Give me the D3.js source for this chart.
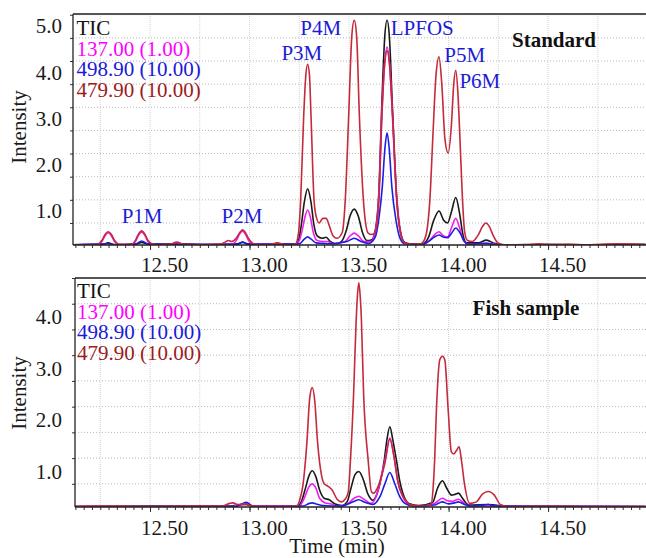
<!DOCTYPE html>
<html>
<head>
<meta charset="utf-8">
<script src="https://cdn.jsdelivr.net/npm/d3@7"></script>
<style>
  html, body { margin: 0; padding: 0; background: #fff; }
  svg { display: block; font-family: "Liberation Serif", "Times New Roman", serif; }
</style>
</head>
<body>
<div id="chart"></div>
<script>
"use strict";

// ---- data ----
const timeTicks = [12.5, 13.0, 13.5, 14.0, 14.5];
const stdIntensityTicks = [1.0, 2.0, 3.0, 4.0, 5.0];
const fishIntensityTicks = [1.0, 2.0, 3.0, 4.0];
const traceLabels = ["TIC", "137.00 (1.00)", "498.90 (10.00)", "479.90 (10.00)"];
const panelTitles = ["Standard", "Fish sample"];
const peakNames = ["P1M", "P2M", "P3M", "P4M", "LPFOS", "P5M", "P6M"];
// label anchors in data units [time, intensity]
const peakLabelAnchors = [[12.46, 0.5], [12.962, 0.5], [13.263, 4.02], [13.358, 4.56], [13.868, 4.56], [14.081, 3.98], [14.157, 3.42]];

// Standard: [time (min), intensity]
const stdTIC = [[12.11,0.03],[12.26,0.03],[12.29,0.07],[12.32,0.03],[12.43,0.04],[12.458,0.08],[12.49,0.04],[12.63,0.05],[12.80,0.03],[12.94,0.05],[12.965,0.09],[12.99,0.05],[13.14,0.04],[13.23,0.04],[13.246,0.12],[13.26,0.45],[13.276,0.97],[13.292,1.24],[13.308,0.97],[13.324,0.45],[13.34,0.22],[13.365,0.17],[13.385,0.19],[13.405,0.1],[13.43,0.05],[13.46,0.09],[13.485,0.32],[13.505,0.65],[13.526,0.8],[13.547,0.64],[13.567,0.3],[13.59,0.12],[13.615,0.14],[13.632,0.35],[13.649,1.1],[13.665,3.1],[13.679,4.5],[13.691,4.88],[13.703,4.5],[13.717,3.1],[13.739,1.1],[13.759,0.3],[13.78,0.08],[13.82,0.04],[13.87,0.05],[13.90,0.2],[13.925,0.55],[13.952,0.76],[13.975,0.56],[13.995,0.5],[14.015,0.75],[14.036,1.05],[14.055,0.72],[14.072,0.25],[14.09,0.07],[14.15,0.07],[14.19,0.13],[14.23,0.06],[14.27,0.03],[14.5,0.04],[14.7,0.03],[14.99,0.04]];
const stdM137 = [[12.11,0.03],[12.24,0.04],[12.26,0.11],[12.275,0.23],[12.29,0.29],[12.305,0.23],[12.32,0.11],[12.34,0.04],[12.41,0.04],[12.428,0.11],[12.443,0.24],[12.458,0.3],[12.473,0.24],[12.488,0.11],[12.508,0.04],[12.60,0.03],[12.634,0.07],[12.67,0.03],[12.91,0.04],[12.935,0.13],[12.95,0.26],[12.965,0.32],[12.98,0.25],[12.995,0.12],[13.015,0.05],[13.23,0.04],[13.25,0.12],[13.265,0.35],[13.278,0.62],[13.292,0.78],[13.306,0.62],[13.32,0.3],[13.34,0.12],[13.37,0.1],[13.39,0.1],[13.42,0.05],[13.48,0.1],[13.505,0.22],[13.526,0.28],[13.547,0.22],[13.575,0.1],[13.61,0.1],[13.632,0.32],[13.649,1.05],[13.665,2.9],[13.679,3.95],[13.691,4.3],[13.703,3.95],[13.717,2.9],[13.739,1.05],[13.759,0.28],[13.78,0.06],[13.87,0.04],[13.905,0.12],[13.93,0.25],[13.952,0.31],[13.975,0.22],[13.995,0.2],[14.015,0.4],[14.036,0.6],[14.055,0.4],[14.075,0.12],[14.1,0.04],[14.19,0.06],[14.26,0.03],[14.99,0.03]];
const stdM499 = [[12.11,0.03],[12.29,0.05],[12.33,0.03],[12.43,0.05],[12.458,0.11],[12.49,0.05],[12.634,0.04],[12.94,0.04],[12.965,0.08],[12.99,0.04],[13.25,0.05],[13.275,0.15],[13.292,0.2],[13.31,0.15],[13.335,0.07],[13.37,0.06],[13.40,0.05],[13.49,0.1],[13.526,0.17],[13.56,0.1],[13.6,0.06],[13.632,0.2],[13.65,0.6],[13.667,1.28],[13.68,2.1],[13.691,2.45],[13.702,2.1],[13.715,1.28],[13.736,0.55],[13.758,0.15],[13.78,0.05],[13.87,0.04],[13.905,0.12],[13.93,0.2],[13.952,0.24],[13.975,0.19],[13.995,0.18],[14.015,0.28],[14.036,0.39],[14.058,0.28],[14.08,0.1],[14.1,0.04],[14.19,0.06],[14.24,0.03],[14.99,0.03]];
const stdM480 = [[12.11,0.03],[12.20,0.03],[12.238,0.04],[12.258,0.12],[12.274,0.25],[12.29,0.31],[12.306,0.25],[12.322,0.12],[12.342,0.04],[12.37,0.03],[12.408,0.04],[12.426,0.12],[12.442,0.26],[12.458,0.33],[12.474,0.26],[12.49,0.12],[12.51,0.05],[12.54,0.03],[12.60,0.04],[12.634,0.09],[12.67,0.04],[12.75,0.03],[12.85,0.04],[12.875,0.08],[12.893,0.12],[12.91,0.1],[12.933,0.17],[12.949,0.28],[12.965,0.35],[12.981,0.28],[12.997,0.15],[13.017,0.06],[13.04,0.03],[13.10,0.03],[13.14,0.07],[13.18,0.03],[13.23,0.04],[13.246,0.28],[13.257,1.0],[13.272,2.8],[13.283,3.7],[13.292,3.93],[13.301,3.7],[13.309,2.8],[13.324,1.0],[13.336,0.62],[13.35,0.5],[13.368,0.6],[13.385,0.6],[13.40,0.45],[13.42,0.22],[13.44,0.17],[13.466,0.3],[13.481,1.0],[13.498,2.8],[13.514,4.55],[13.526,4.88],[13.538,4.55],[13.552,2.8],[13.572,1.0],[13.596,0.28],[13.613,0.25],[13.632,0.3],[13.65,1.0],[13.665,2.8],[13.679,3.95],[13.691,4.22],[13.703,3.95],[13.719,2.8],[13.739,1.0],[13.759,0.28],[13.78,0.06],[13.82,0.04],[13.86,0.05],[13.88,0.15],[13.89,0.3],[13.906,1.0],[13.922,2.45],[13.937,3.7],[13.952,4.09],[13.966,3.5],[13.982,2.3],[13.998,2.01],[14.014,2.6],[14.026,3.5],[14.036,3.8],[14.047,3.3],[14.056,2.45],[14.07,1.0],[14.081,0.3],[14.095,0.12],[14.12,0.1],[14.15,0.25],[14.17,0.42],[14.187,0.5],[14.205,0.42],[14.225,0.22],[14.25,0.06],[14.28,0.03],[14.40,0.03],[14.45,0.05],[14.50,0.03],[14.60,0.04],[14.70,0.03],[14.85,0.05],[14.99,0.03]];

// Fish sample
const fishTIC = [[12.11,0.06],[12.5,0.07],[12.9,0.07],[12.95,0.09],[12.985,0.1],[13.02,0.07],[13.24,0.07],[13.26,0.15],[13.28,0.4],[13.298,0.65],[13.315,0.755],[13.333,0.64],[13.352,0.38],[13.375,0.22],[13.40,0.19],[13.43,0.11],[13.465,0.08],[13.49,0.15],[13.51,0.42],[13.53,0.68],[13.549,0.74],[13.57,0.6],[13.595,0.3],[13.62,0.18],[13.64,0.3],[13.655,0.5],[13.677,0.96],[13.69,1.35],[13.705,1.61],[13.72,1.35],[13.738,0.96],[13.755,0.55],[13.77,0.32],[13.80,0.12],[13.85,0.08],[13.92,0.14],[13.945,0.42],[13.969,0.56],[13.99,0.42],[14.015,0.28],[14.035,0.3],[14.05,0.32],[14.07,0.22],[14.1,0.09],[14.2,0.1],[14.3,0.06],[14.99,0.06]];
const fishM137 = [[12.11,0.06],[12.9,0.06],[12.96,0.1],[12.985,0.12],[13.01,0.07],[13.25,0.07],[13.275,0.22],[13.297,0.43],[13.315,0.5],[13.333,0.42],[13.352,0.22],[13.38,0.13],[13.41,0.11],[13.44,0.07],[13.49,0.1],[13.525,0.22],[13.549,0.26],[13.575,0.2],[13.61,0.12],[13.64,0.3],[13.665,0.7],[13.68,0.95],[13.705,1.39],[13.725,1.05],[13.745,0.55],[13.77,0.25],[13.80,0.1],[13.85,0.07],[13.93,0.12],[13.969,0.22],[13.995,0.17],[14.02,0.16],[14.05,0.2],[14.08,0.12],[14.1,0.07],[14.99,0.06]];
const fishM499 = [[12.11,0.06],[12.93,0.06],[12.96,0.11],[12.985,0.14],[13.01,0.08],[13.05,0.06],[13.27,0.07],[13.3,0.12],[13.315,0.13],[13.335,0.11],[13.37,0.08],[13.46,0.07],[13.52,0.15],[13.549,0.19],[13.58,0.14],[13.62,0.1],[13.655,0.25],[13.68,0.5],[13.705,0.72],[13.728,0.52],[13.755,0.25],[13.78,0.12],[13.82,0.07],[13.93,0.09],[13.969,0.15],[14.0,0.11],[14.03,0.13],[14.05,0.15],[14.08,0.1],[14.12,0.07],[14.18,0.09],[14.20,0.1],[14.23,0.07],[14.99,0.06]];
const fishM480 = [[12.11,0.06],[12.3,0.07],[12.5,0.06],[12.7,0.07],[12.86,0.07],[12.9,0.12],[12.917,0.13],[12.94,0.1],[12.97,0.11],[13.0,0.08],[13.05,0.06],[13.2,0.06],[13.24,0.08],[13.253,0.2],[13.267,0.44],[13.289,1.35],[13.302,2.15],[13.315,2.37],[13.328,2.1],[13.341,1.35],[13.356,0.8],[13.375,0.5],[13.395,0.45],[13.415,0.38],[13.44,0.2],[13.462,0.15],[13.48,0.2],[13.496,0.34],[13.507,0.96],[13.523,2.26],[13.535,3.6],[13.542,4.15],[13.549,4.41],[13.556,4.15],[13.562,3.7],[13.573,2.26],[13.596,0.96],[13.613,0.34],[13.625,0.32],[13.646,0.45],[13.68,0.9],[13.705,1.37],[13.725,1.05],[13.745,0.55],[13.78,0.2],[13.82,0.08],[13.88,0.07],[13.91,0.08],[13.922,0.4],[13.93,0.96],[13.939,1.94],[13.956,2.91],[13.969,2.98],[13.981,2.91],[13.998,1.94],[14.014,1.12],[14.025,1.08],[14.04,1.15],[14.053,1.22],[14.065,0.95],[14.08,0.5],[14.106,0.12],[14.14,0.15],[14.17,0.3],[14.20,0.35],[14.23,0.28],[14.26,0.1],[14.3,0.06],[14.5,0.07],[14.7,0.06],[14.99,0.06]];

// ---- layout / style ----
const width = 646;
const height = 558;
const fontSize = 21;
const traceColors = ["#1a1a1a", "#f01ef0", "#1e1ee0", "#c42a3c"];
const legendColors = ["#111111", "#ff00ff", "#1a1ad8", "#9c1c1c"];
const peakColor = "#1c1cd6";

const x = d3.scaleLinear().domain([12.113, 14.992]).range([73, 646]);

const panels = [
  {
    series: [stdTIC, stdM137, stdM499, stdM480],
    ticks: stdIntensityTicks,
    yDomain: [0.024, 5.016], yRange: [245, 14],
    left: 73, legendX: 76.5, legendY: 35, labelDy: 18, xLabelY: 272, intensityY: 127,
    title: panelTitles[0], titleX: 554, titleY: 47, peaks: true,
  },
  {
    series: [fishTIC, fishM137, fishM499, fishM480],
    ticks: fishIntensityTicks,
    yDomain: [0.05, 4.5], yRange: [507, 278],
    left: 75, legendX: 77, legendY: 298, labelDy: 20, xLabelY: 535, intensityY: 393,
    title: panelTitles[1], titleX: 526, titleY: 315, peaks: false,
  },
];

const svg = d3.select("#chart")
  .append("svg")
  .attr("width", width)
  .attr("height", height)
  .attr("viewBox", `0 0 ${width} ${height}`);

svg.append("rect").attr("width", width).attr("height", height).attr("fill", "#fff");

panels.forEach((panel, index) => {
  const y = d3.scaleLinear().domain(panel.yDomain).range(panel.yRange);
  const top = panel.yRange[1];
  const bottom = panel.yRange[0];
  const g = svg.append("g");

  // grid
  const vGrid = d3.range(12.25, 14.99, 0.25);
  g.selectAll("line.vgrid")
    .data(vGrid)
    .join("line")
    .attr("x1", (t) => x(t))
    .attr("x2", (t) => x(t))
    .attr("y1", top)
    .attr("y2", bottom)
    .attr("stroke", "#d4d4d4")
    .attr("stroke-width", 1)
    .attr("stroke-dasharray", "1,1");

  const hGrid = d3.range(0.5, panel.yDomain[1] + 0.01, 0.5);
  g.selectAll("line.hgrid")
    .data(hGrid)
    .join("line")
    .attr("x1", panel.left)
    .attr("x2", width)
    .attr("y1", (v) => y(v))
    .attr("y2", (v) => y(v))
    .attr("stroke", "#b8b8b8")
    .attr("stroke-width", 1)
    .attr("stroke-dasharray", "1,2");

  // traces
  const clipId = `clip-${index}`;
  svg.append("clipPath")
    .attr("id", clipId)
    .append("rect")
    .attr("x", panel.left)
    .attr("y", top)
    .attr("width", width - panel.left)
    .attr("height", bottom - top);

  const line = d3.line()
    .x((d) => x(d[0]))
    .y((d) => y(d[1]))
    .curve(d3.curveMonotoneX);

  g.append("g")
    .attr("clip-path", `url(#${clipId})`)
    .selectAll("path")
    .data(panel.series)
    .join("path")
    .attr("fill", "none")
    .attr("stroke", (_, i) => traceColors[i])
    .attr("stroke-width", 1.6)
    .attr("stroke-linejoin", "round")
    .attr("d", line);

  // minor x ticks
  g.append("g")
    .attr("transform", `translate(0,${bottom})`)
    .call(d3.axisBottom(x).tickValues(d3.range(12.125, 14.99, 0.25 / 6)).tickSize(3).tickFormat(""))
    .call((axis) => axis.select(".domain").remove())
    .call((axis) => axis.selectAll("line").attr("stroke", "#333"));

  // major x ticks + labels
  g.append("g")
    .attr("transform", `translate(0,${bottom})`)
    .call(d3.axisBottom(x).tickValues(timeTicks).tickSize(5).tickFormat(d3.format(".2f")))
    .call((axis) => axis.select(".domain").remove())
    .call((axis) => axis.selectAll("line").attr("stroke", "#333"))
    .call((axis) => axis.selectAll("text")
      .attr("x", 14)
      .attr("y", panel.xLabelY - bottom)
      .attr("dy", null)
      .attr("fill", "#1a1a1a")
      .attr("font-size", fontSize)
      .attr("font-family", "Liberation Serif, serif"));

  // y axis
  g.append("g")
    .attr("transform", `translate(${panel.left},0)`)
    .call(d3.axisLeft(y).tickValues(d3.range(0.5, panel.yDomain[1] + 0.01, 0.5)).tickSize(3).tickFormat(""))
    .call((axis) => axis.select(".domain").remove())
    .call((axis) => axis.selectAll("line").attr("stroke", "#333"));

  g.append("g")
    .attr("transform", `translate(${panel.left},0)`)
    .call(d3.axisLeft(y).tickValues(panel.ticks).tickSize(0).tickFormat(d3.format(".1f")))
    .call((axis) => axis.select(".domain").remove())
    .call((axis) => axis.selectAll("text")
      .attr("x", 62 - panel.left)
      .attr("y", panel.labelDy)
      .attr("dy", null)
      .attr("fill", "#1a1a1a")
      .attr("font-size", fontSize)
      .attr("font-family", "Liberation Serif, serif"));

  // frame
  g.append("line")
    .attr("x1", panel.left).attr("x2", width)
    .attr("y1", top).attr("y2", top)
    .attr("stroke", "#555").attr("stroke-width", 2);
  g.append("line")
    .attr("x1", panel.left).attr("x2", panel.left)
    .attr("y1", top).attr("y2", bottom)
    .attr("stroke", "#222").attr("stroke-width", 1.3);
  g.append("line")
    .attr("x1", panel.left).attr("x2", width)
    .attr("y1", bottom).attr("y2", bottom)
    .attr("stroke", "#222").attr("stroke-width", 1.5);

  // legend
  g.selectAll("text.legend")
    .data(traceLabels)
    .join("text")
    .attr("x", panel.legendX)
    .attr("y", (_, i) => panel.legendY + i * 20.5)
    .attr("font-size", fontSize)
    .attr("fill", (_, i) => legendColors[i])
    .attr("xml:space", "preserve")
    .text((d) => d);

  g.append("text")
    .attr("x", panel.titleX)
    .attr("y", panel.titleY)
    .attr("text-anchor", "middle")
    .attr("font-size", fontSize)
    .attr("font-weight", 700)
    .attr("fill", "#111")
    .text(panel.title);

  g.append("text")
    .attr("transform", `translate(26,${panel.intensityY}) rotate(-90)`)
    .attr("text-anchor", "middle")
    .attr("font-size", fontSize)
    .attr("fill", "#1a1a1a")
    .text("Intensity");

  if (panel.peaks) {
    g.selectAll("text.peak")
      .data(peakNames)
      .join("text")
      .attr("x", (_, i) => x(peakLabelAnchors[i][0]))
      .attr("y", (_, i) => y(peakLabelAnchors[i][1]))
      .attr("text-anchor", "middle")
      .attr("font-size", fontSize)
      .attr("fill", peakColor)
      .text((d) => d);
  }
});

svg.append("text")
  .attr("x", 337)
  .attr("y", 553)
  .attr("text-anchor", "middle")
  .attr("font-size", fontSize)
  .attr("fill", "#1a1a1a")
  .text("Time (min)");
</script>
</body>
</html>
